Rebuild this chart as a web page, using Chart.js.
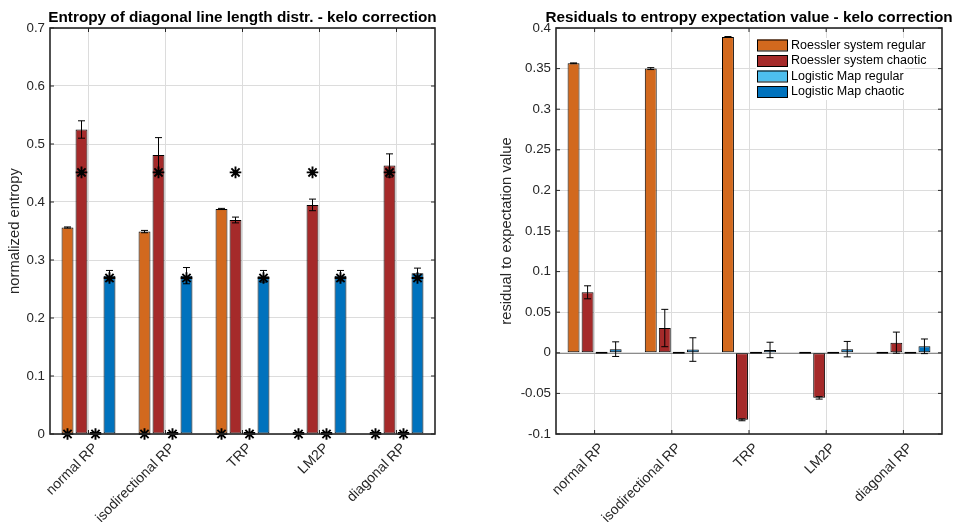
<!DOCTYPE html>
<html>
<head>
<meta charset="utf-8">
<script src="https://cdn.jsdelivr.net/npm/chart.js@4.4.1/dist/chart.umd.min.js"></script>
<style>
  html, body { margin: 0; padding: 0; background: #ffffff; width: 954px; height: 522px; overflow: hidden; }
  #leftBox { position: absolute; left: 0; top: 0; width: 490px; height: 522px; }
  #rightBox { position: absolute; left: 490px; top: 0; width: 464px; height: 522px; }
</style>
</head>
<body>
<div id="leftBox"><canvas id="leftChart" width="490" height="522"></canvas></div>
<div id="rightBox"><canvas id="rightChart" width="464" height="522"></canvas></div>
<script>
// ---- data ---------------------------------------------------------------
const categories = ['normal RP', 'isodirectional RP', 'TRP', 'LM2P', 'diagonal RP'];
const seriesNames = ['Roessler system regular', 'Roessler system chaotic', 'Logistic Map regular', 'Logistic Map chaotic'];

// normalized entropy of the diagonal line length distribution
const entRoesslerRegular = [0.356, 0.349, 0.388, 0, 0];
const entRoesslerChaotic = [0.525, 0.481, 0.369, 0.395, 0.463];
const entLogisticRegular = [0, 0, 0, 0, 0];
const entLogisticChaotic = [0.273, 0.273, 0.272, 0.273, 0.277];

const entErrRoesslerRegular = [0.001, 0.002, 0.001, 0, 0];
const entErrRoesslerChaotic = [0.015, 0.030, 0.005, 0.010, 0.020];
const entErrLogisticRegular = [0, 0, 0, 0, 0];
const entErrLogisticChaotic = [0.009, 0.014, 0.010, 0.009, 0.009];

// expectation value of each system (asterisks)
const expectedEntropy = [0, 0.451, 0, 0.269];

// residuals to the expectation value
const resRoesslerRegular = [0.3565, 0.350, 0.389, 0, 0];
const resRoesslerChaotic = [0.0745, 0.0305, -0.0825, -0.0555, 0.0125];
const resLogisticRegular = [0, 0, 0, 0, 0];
const resLogisticChaotic = [0.0045, 0.004, 0.0035, 0.0045, 0.008];

const resErrRoesslerRegular = [0.0005, 0.0012, 0.0005, 0, 0];
const resErrRoesslerChaotic = [0.008, 0.023, 0.0012, 0.0015, 0.013];
const resErrLogisticRegular = [0, 0, 0, 0, 0];
const resErrLogisticChaotic = [0.009, 0.0145, 0.0095, 0.0095, 0.009];

const entropyTicks = [0, 0.1, 0.2, 0.3, 0.4, 0.5, 0.6, 0.7];
const residualTicks = [-0.1, -0.05, 0, 0.05, 0.1, 0.15, 0.2, 0.25, 0.3, 0.35, 0.4];

// ---- style --------------------------------------------------------------
const seriesColors = ['#d2691e', '#a52a2a', '#4dbeee', '#0072bd'];
const FONT = "'Liberation Sans', Arial, Helvetica, sans-serif";
const AXIS = '#262626';
const GRID = '#dcdcdc';
const TICK_LEN = 4;
const CAP = 3.5;

// ---- plugins ------------------------------------------------------------
const titlePlugin = {
  id: 'plotTitle',
  afterDraw(chart, args, opts) {
    const { ctx, chartArea: a } = chart;
    ctx.save();
    ctx.font = 'bold 15.3px ' + FONT;
    ctx.fillStyle = '#000';
    ctx.textAlign = 'center';
    ctx.textBaseline = 'alphabetic';
    ctx.fillText(opts.text, (a.left + a.right) / 2, 22);
    ctx.restore();
  }
};

const baselinePlugin = {
  id: 'baseline',
  beforeDatasetsDraw(chart) {
    const { ctx, chartArea: a, scales: { y } } = chart;
    const py = Math.round(y.getPixelForValue(0)) + 0.5;
    ctx.save();
    ctx.strokeStyle = '#8c8c8c';
    ctx.lineWidth = 1;
    ctx.beginPath();
    ctx.moveTo(a.left, py);
    ctx.lineTo(a.right, py);
    ctx.stroke();
    ctx.restore();
  }
};

const errorBarPlugin = {
  id: 'errorBars',
  afterDatasetsDraw(chart) {
    const { ctx, scales: { y } } = chart;
    ctx.save();
    ctx.strokeStyle = '#000';
    ctx.lineWidth = 1;
    chart.data.datasets.forEach((ds, i) => {
      if (!ds.errors) return;
      chart.getDatasetMeta(i).data.forEach((bar, j) => {
        const e = ds.errors[j];
        if (!e) return;
        const v = ds.data[j];
        const top = y.getPixelForValue(v + e);
        const bot = y.getPixelForValue(v - e);
        ctx.beginPath();
        ctx.moveTo(bar.x, top); ctx.lineTo(bar.x, bot);
        ctx.moveTo(bar.x - CAP, top); ctx.lineTo(bar.x + CAP, top);
        ctx.moveTo(bar.x - CAP, bot); ctx.lineTo(bar.x + CAP, bot);
        ctx.stroke();
      });
    });
    ctx.restore();
  }
};

const expectationPlugin = {
  id: 'expectation',
  afterDatasetsDraw(chart) {
    const { ctx, scales: { y } } = chart;
    ctx.save();
    ctx.strokeStyle = '#000';
    ctx.lineWidth = 1.9;
    chart.data.datasets.forEach((ds, i) => {
      if (ds.expected === undefined) return;
      chart.getDatasetMeta(i).data.forEach(bar => {
        Chart.helpers.drawPoint(ctx, { pointStyle: 'star', radius: 5.8, rotation: 0, borderWidth: 1.9 },
          bar.x, y.getPixelForValue(ds.expected));
      });
    });
    ctx.restore();
  }
};

const framePlugin = {
  id: 'frame',
  afterDraw(chart) {
    const { ctx, chartArea: a, scales: { x, y } } = chart;
    ctx.save();
    ctx.strokeStyle = AXIS;
    ctx.lineWidth = 1;
    ctx.beginPath();
    y.ticks.forEach(t => {
      const py = y.getPixelForValue(t.value);
      ctx.moveTo(a.left, py); ctx.lineTo(a.left + TICK_LEN, py);
      ctx.moveTo(a.right, py); ctx.lineTo(a.right - TICK_LEN, py);
    });
    x.ticks.forEach((t, i) => {
      const px = x.getPixelForTick(i);
      ctx.moveTo(px, a.bottom); ctx.lineTo(px, a.bottom - TICK_LEN);
      ctx.moveTo(px, a.top); ctx.lineTo(px, a.top + TICK_LEN);
    });
    ctx.stroke();
    ctx.lineWidth = 1.6;
    ctx.strokeRect(a.left, a.top, a.right - a.left, a.bottom - a.top);
    ctx.restore();
  }
};

const boxLegendPlugin = {
  id: 'boxLegend',
  afterDraw(chart) {
    const { ctx, chartArea: a } = chart;
    const x0 = a.right - 185;
    const y0 = a.top + 17;
    const step = 15.5;
    ctx.save();
    ctx.fillStyle = '#fff';
    ctx.fillRect(x0 - 1, a.top + 10, 149, 62);
    ctx.font = '12.5px ' + FONT;
    ctx.textBaseline = 'middle';
    ctx.textAlign = 'left';
    chart.data.datasets.forEach((ds, i) => {
      const cy = y0 + i * step;
      ctx.fillStyle = ds.backgroundColor;
      ctx.fillRect(x0, cy - 5.5, 31, 11);
      ctx.strokeStyle = '#000';
      ctx.lineWidth = 1;
      ctx.strokeRect(x0 + 0.5, cy - 5, 30, 11);
      ctx.fillStyle = '#000';
      ctx.fillText(ds.label, x0 + 34, cy + 0.5);
    });
    ctx.restore();
  }
};

// ---- chart builder --------------------------------------------------------
function buildDatasets(values, errors, expected) {
  return seriesNames.map((name, i) => {
    const ds = {
      label: name,
      data: values[i],
      errors: errors[i],
      backgroundColor: seriesColors[i],
      borderColor: '#000',
      borderWidth: 1,
      borderSkipped: false,
      minBarLength: 2,
      categoryPercentage: 0.727,
      barPercentage: 0.85
    };
    if (expected) ds.expected = expected[i];
    return ds;
  });
}

function makeChart(canvasId, cfg) {
  return new Chart(document.getElementById(canvasId), {
    type: 'bar',
    data: { labels: categories, datasets: cfg.datasets },
    plugins: cfg.plugins,
    options: {
      responsive: false,
      animation: false,
      devicePixelRatio: 1,
      layout: { padding: { left: cfg.padLeft, right: cfg.padRight, top: 28, bottom: 0 } },
      plugins: {
        legend: { display: false },
        tooltip: { enabled: false },
        plotTitle: { text: cfg.title }
      },
      scales: {
        x: {
          type: 'category',
          offset: true,
          grid: { offset: false, color: GRID, lineWidth: 1, drawTicks: false },
          border: { display: false },
          ticks: {
            autoSkip: false, maxRotation: 45, minRotation: 45, padding: 6, labelOffset: 7,
            color: AXIS, font: { family: FONT, size: 14 }
          },
          afterFit: s => { s.height = 88; }
        },
        y: {
          min: cfg.ticks[0],
          max: cfg.ticks[cfg.ticks.length - 1],
          grid: { color: GRID, lineWidth: 1, drawTicks: false },
          border: { display: false },
          ticks: {
            padding: 5, color: AXIS, font: { family: FONT, size: 13.3 },
            callback: v => String(Math.round(v * 1000) / 1000)
          },
          afterBuildTicks: s => { s.ticks = cfg.ticks.map(v => ({ value: v })); },
          afterFit: s => { s.width = cfg.axisWidth; },
          title: {
            display: true, text: cfg.yTitle, color: AXIS,
            font: { family: FONT, size: 14.8 },
            padding: { top: cfg.titlePad, bottom: 0 }
          }
        }
      }
    }
  });
}

makeChart('leftChart', {
  title: 'Entropy of diagonal line length distr. - kelo correction',
  yTitle: 'normalized entropy',
  ticks: entropyTicks,
  padLeft: 0, padRight: 55, axisWidth: 50, titlePad: 6.2,
  datasets: buildDatasets(
    [entRoesslerRegular, entRoesslerChaotic, entLogisticRegular, entLogisticChaotic],
    [entErrRoesslerRegular, entErrRoesslerChaotic, entErrLogisticRegular, entErrLogisticChaotic],
    expectedEntropy),
  plugins: [titlePlugin, errorBarPlugin, expectationPlugin, framePlugin]
});

makeChart('rightChart', {
  title: 'Residuals to entropy expectation value - kelo correction',
  yTitle: 'residual to expectation value',
  ticks: residualTicks,
  padLeft: 0, padRight: 12, axisWidth: 66, titlePad: 8.2,
  datasets: buildDatasets(
    [resRoesslerRegular, resRoesslerChaotic, resLogisticRegular, resLogisticChaotic],
    [resErrRoesslerRegular, resErrRoesslerChaotic, resErrLogisticRegular, resErrLogisticChaotic],
    null),
  plugins: [titlePlugin, baselinePlugin, errorBarPlugin, framePlugin, boxLegendPlugin]
});
</script>
</body>
</html>
